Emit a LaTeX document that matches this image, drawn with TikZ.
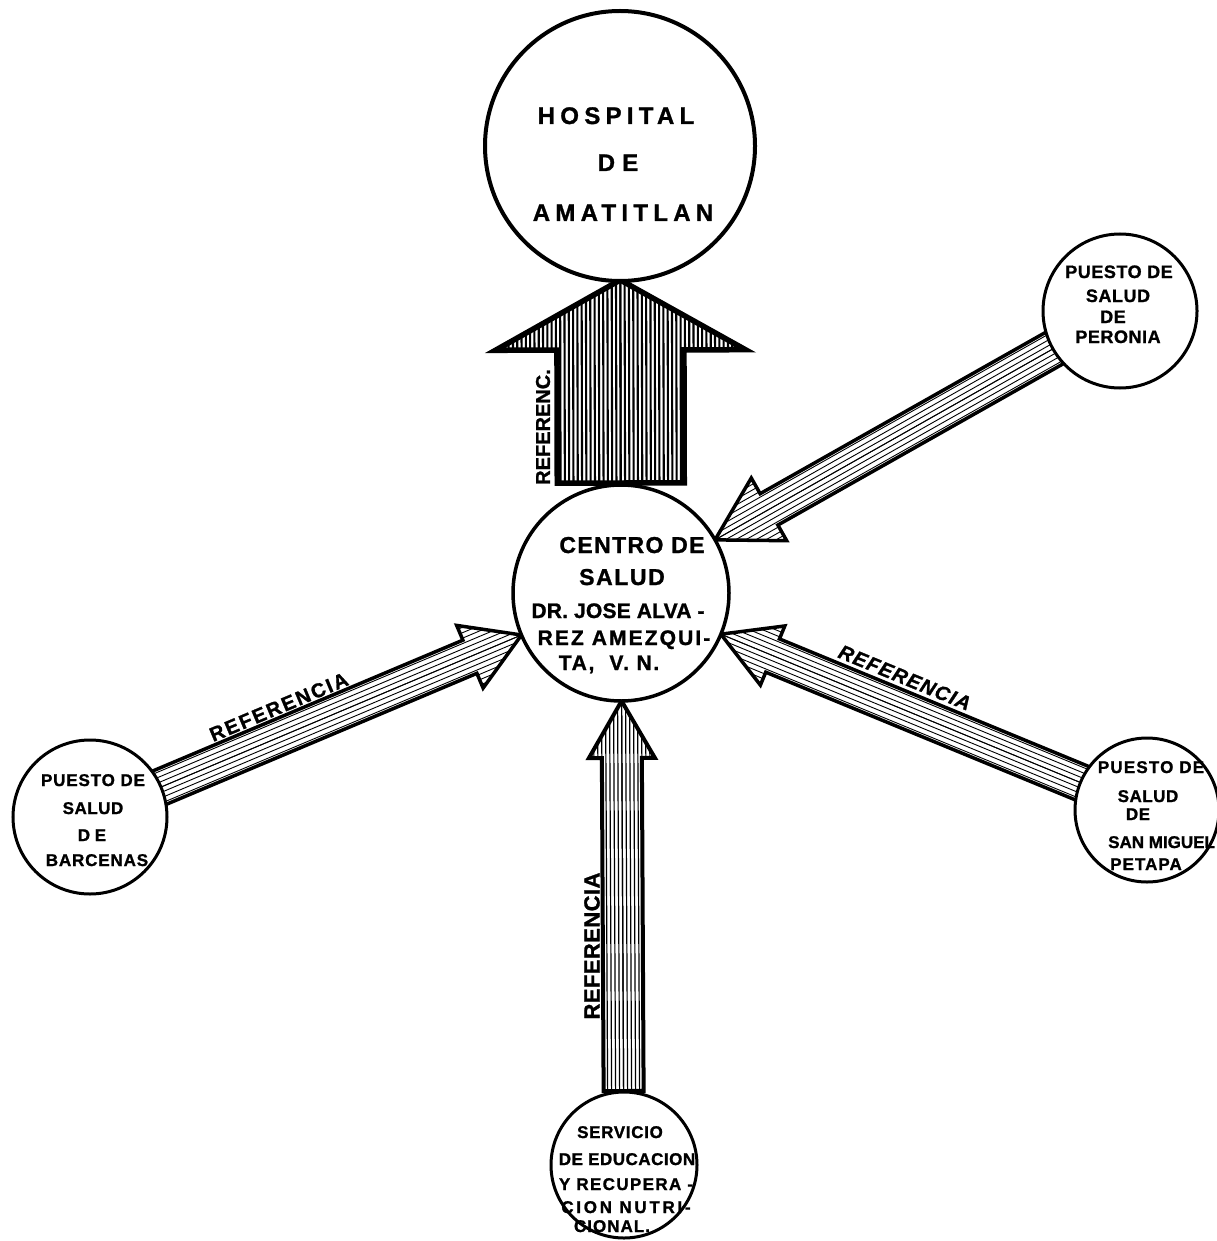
\documentclass[tikz,border=0pt]{standalone}
\usepackage{fontspec}
\setmainfont{Liberation Sans}
\usetikzlibrary{calc,backgrounds}

\newcommand\ftx[2]{\bfseries\fontsize{#1}{#1}\selectfont\addfontfeature{LetterSpace=#2,FakeBold=1.2}}
\newcommand\ftxi[2]{\bfseries\itshape\fontsize{#1}{#1}\selectfont\addfontfeature{LetterSpace=#2,FakeBold=1.2}}

% #1 tail, #2 tip, #3 shaft half width, #4 head half width, #5 head length,
% #6 hatch spacing, #7 hatch line width, #8 outline width
\newcommand\hatchedarrow[8]{%
  \coordinate (hB) at ($(#2)!#5pt!(#1)$);
  \coordinate (TL) at ($(#1)!#3pt!90:(#2)$);
  \coordinate (TR) at ($(#1)!#3pt!-90:(#2)$);
  \coordinate (BL) at ($(hB)!#3pt!-90:(#1)$);
  \coordinate (BR) at ($(hB)!#3pt!90:(#1)$);
  \coordinate (HL) at ($(hB)!#4pt!-90:(#1)$);
  \coordinate (HR) at ($(hB)!#4pt!90:(#1)$);
  \fill[white] (TL) -- (BL) -- (HL) -- (#2) -- (HR) -- (BR) -- (TR) -- cycle;
  \begin{scope}
    \clip (TL) -- (BL) -- (HL) -- (#2) -- (HR) -- (BR) -- (TR) -- cycle;
    \foreach \k in {0,#6,...,#4}{%
      \draw[line width=#7] ($(#1)!\k pt!90:(#2)$) -- ($(#2)!\k pt!-90:(#1)$);
      \draw[line width=#7] ($(#1)!\k pt!-90:(#2)$) -- ($(#2)!\k pt!90:(#1)$);
    }
  \end{scope}
  \draw[line width=#8, line join=miter] (TL) -- (BL) -- (HL) -- (#2) -- (HR) -- (BR) -- (TR) -- cycle;
}

\tikzset{
  circ/.style={circle, draw, line width=3pt, fill=white, inner sep=0pt},
  txt/.style={anchor=base, inner sep=0pt},
  rtxt/.style={anchor=center, inner sep=0pt}
}

\begin{document}
\begin{tikzpicture}[x=1pt,y=-1pt]
\useasboundingbox (0,0) rectangle (1216,1241);

% circles
\node[circ, line width=4pt, minimum size=270pt] (hosp) at (620,146) {};
\node[circ, line width=3.5pt, minimum size=216pt] (cen) at (621,593) {};
\node[circ, minimum size=154pt] (per) at (1120,311) {};
\node[circ, minimum size=154pt] (barc) at (90,817) {};
\node[circ, minimum size=144pt] (sanm) at (1147,810) {};
\node[circ, minimum size=146pt] (serv) at (624,1165) {};

% texts
\node[txt, font=\ftx{24}{22}] (h1) at (616,124) {HOSPITAL};
\node[txt, font=\ftx{24}{30}] (h2) at (618,171) {DE};
\node[txt, font=\ftx{24}{22}] (h3) at (623,221) {AMATITLAN};

\node[txt, font=\ftx{23}{6}] (c1) at (632,553) {CENTRO DE};
\node[txt, font=\ftx{23}{7}] (c2) at (622,585) {SALUD};
\node[txt, font=\ftx{21}{1}] (c3) at (618,618) {DR. JOSE ALVA -};
\node[txt, font=\ftx{21}{10}] (c4) at (624,645) {REZ AMEZQUI-};
\node[txt, font=\ftx{21}{8}] (c5) at (609,670) {TA,~~V.~N.};

\node[txt, font=\ftx{18}{3}] (pe1) at (1119,278) {PUESTO DE};
\node[txt, font=\ftx{18}{3}] (pe2) at (1118,302) {SALUD};
\node[txt, font=\ftx{18}{3}] (pe3) at (1113,323) {DE};
\node[txt, font=\ftx{18}{3}] (pe4) at (1118,343) {PERONIA};

\node[txt, font=\ftx{17}{5}] (ba1) at (93,786) {PUESTO DE};
\node[txt, font=\ftx{17}{3}] (ba2) at (93,814) {SALUD};
\node[txt, font=\ftx{17}{0}] (ba3) at (92,841) {D E};
\node[txt, font=\ftx{17}{5}] (ba4) at (97,866) {BARCENAS};

\node[txt, font=\ftx{17}{7}] (sm1) at (1151,773) {PUESTO DE};
\node[txt, font=\ftx{17}{3}] (sm2) at (1148,802) {SALUD};
\node[txt, font=\ftx{17}{3}] (sm3) at (1138,820) {DE};
\node[txt, font=\ftx{17}{0}, anchor=base west] (sm4) at (1108,848) {SAN MIGUEL};
\node[txt, font=\ftx{17}{6}] (sm5) at (1146,870) {PETAPA};

\node[txt, font=\ftx{17}{4}] (se1) at (620,1138) {SERVICIO};
\node[txt, font=\ftx{17}{3}] (se2) at (627,1165) {DE EDUCACION};
\node[txt, font=\ftx{17}{8}] (se3) at (626,1190) {Y RECUPERA -};
\node[txt, font=\ftx{17}{16}] (se4) at (626,1213) {CION NUTRI-};
\node[txt, font=\ftx{17}{6}] (se5) at (612,1232) {CIONAL.};

% arrows (behind circles)
\begin{pgfonlayer}{background}
  \fill[white] (0,0) rectangle (1216,1241);
  \coordinate (t0) at ($(cen)!110pt!(hosp)$);
  \coordinate (p0) at ($(hosp)!134pt!(cen)$);
  \hatchedarrow{t0}{p0}{63.5}{125}{70}{4.3}{2.1pt}{5.5pt}

  \coordinate (tP) at ($(per)!69pt!(cen)$);
  \coordinate (pP) at ($(cen)!108pt!(per)$);
  \hatchedarrow{tP}{pP}{18}{36}{62}{5}{0.9pt}{3.5pt}

  \coordinate (tB) at ($(barc)!69pt!(cen)$);
  \coordinate (pB) at ($(cen)!108pt!(barc)$);
  \hatchedarrow{tB}{pB}{18}{34}{56}{5}{0.9pt}{3.5pt}

  \coordinate (tS) at ($(sanm)!64pt!(cen)$);
  \coordinate (pS) at ($(cen)!108pt!(sanm)$);
  \hatchedarrow{tS}{pS}{18}{32}{56}{5}{0.9pt}{3.5pt}

  \coordinate (tV) at ($(serv)!74pt!(cen)$);
  \coordinate (pV) at ($(cen)!108pt!(serv)$);
  \hatchedarrow{tV}{pV}{20}{33}{57}{4}{1.2pt}{4pt}
\end{pgfonlayer}

% arrow labels
\node[rtxt, rotate=90, font=\ftx{20}{0}] (r0) at (543,427) {REFERENC.};
\node[rtxt, rotate=90, font=\ftx{22}{2}] (rV) at (592,946) {REFERENCIA};
\coordinate (mB) at ($(tB)!0.37!(pB)$);
\node[rtxt, rotate=22.8, font=\ftx{20}{10}] (rB) at ($(mB)!28pt!90:(pB)$) {REFERENCIA};
\coordinate (mS) at ($(tS)!0.53!(pS)$);
\node[rtxt, rotate=-22.4, font=\ftxi{20}{6}] (rS) at ($(mS)!30pt!-90:(pS)$) {REFERENCIA};
\end{tikzpicture}
\end{document}
